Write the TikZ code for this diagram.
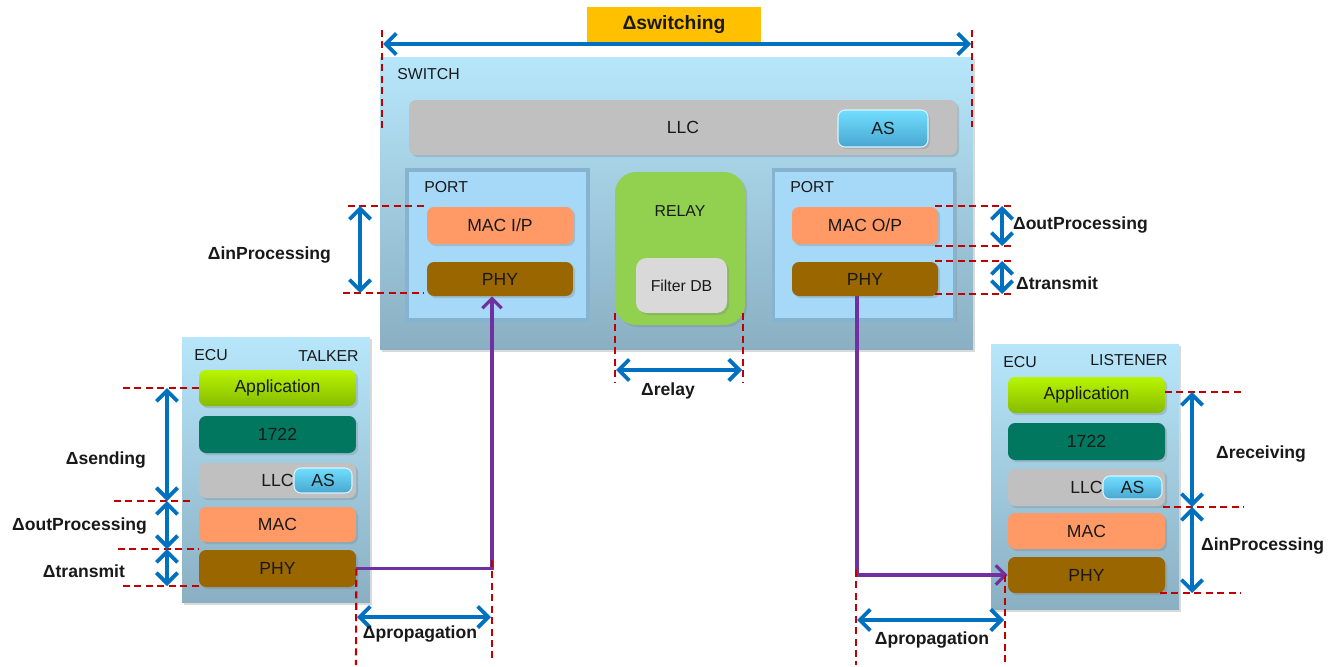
\documentclass[tikz,border=0pt]{standalone}
\usepackage{fontspec}
\setmainfont{Liberation Sans}
\usetikzlibrary{arrows.meta,calc,shadows}

\definecolor{dimblue}{HTML}{0070C0}
\definecolor{dimred}{HTML}{C00000}
\definecolor{flowpurple}{HTML}{7030A0}
\definecolor{boxtop}{HTML}{B7E6FB}
\definecolor{boxbot}{HTML}{8AAFC2}
\definecolor{portfill}{HTML}{A6D8F7}
\definecolor{portedge}{HTML}{86B4D0}
\definecolor{apptop}{HTML}{B8F500}
\definecolor{appbot}{HTML}{86BC00}
\definecolor{tealbox}{HTML}{00775E}
\definecolor{llcgray}{HTML}{C0C0C0}
\definecolor{macorange}{HTML}{FF9966}
\definecolor{phybrown}{HTML}{996600}
\definecolor{astop}{HTML}{72DEFF}
\definecolor{asbot}{HTML}{48A6D0}
\definecolor{relaygreen}{HTML}{92D050}
\definecolor{fdbgray}{HTML}{D9D9D9}
\definecolor{tagorange}{HTML}{FFC000}

\begin{document}
\begin{tikzpicture}[x=0.02cm,y=-0.02cm,
    box/.style={rounded corners=4pt,inner sep=0pt,font=\fontsize{10}{12}\selectfont,text=black!90},
    frame/.style={inner sep=0pt,top color=boxtop,bottom color=boxbot},
    portbox/.style={inner sep=0pt,fill=portfill,draw=portedge,line width=2pt},
    asbox/.style={box,top color=astop,bottom color=asbot,draw=white!70!astop,line width=0.6pt},
    softshadow/.style={drop shadow={opacity=0.3,shadow xshift=1.2pt,shadow yshift=-1.2pt}},
    dimline/.style={dimred,line width=1.2pt,dash pattern=on 4pt off 2.5pt},
    dimarrow/.style={dimblue,line width=2.2pt,{Straight Barb[length=6pt,width=12pt]}-{Straight Barb[length=6pt,width=12pt]}},
    flow/.style={flowpurple,line width=1.8pt,-{Straight Barb[length=5.5pt,width=11pt]}},
    dimlabel/.style={font=\bfseries\fontsize{10}{12}\selectfont,text=black!90,inner sep=1pt},
    title/.style={font=\fontsize{9}{11}\selectfont,text=black!90,inner sep=0pt}
  ]
  \useasboundingbox (0,0) rectangle (1341,666);

  % The switch
  \node[frame,softshadow,minimum width=11.86cm,minimum height=5.86cm] (sw) at (676.5,203.5) {};
  \node[title,anchor=west] (swT) at (397,74) {SWITCH};
  \node[box,fill=llcgray,softshadow,minimum width=10.96cm,minimum height=1.1cm] (llc) at (683,127.5) {LLC};
  \node[asbox,softshadow,minimum width=1.8cm,minimum height=0.74cm] (asS) at (883,128.5) {AS};

  % Input and output ports
  \node[portbox,softshadow,minimum width=3.62cm,minimum height=3cm] (portL) at (497.5,245) {};
  \node[title,anchor=west] (portLT) at (424,187) {PORT};
  \node[box,fill=macorange,softshadow,minimum width=2.92cm,minimum height=0.74cm] (macI) at (500,225.5) {MAC I/P};
  \node[box,fill=phybrown,softshadow,minimum width=2.92cm,minimum height=0.68cm] (phyL) at (500,279) {PHY};

  \node[portbox,softshadow,minimum width=3.62cm,minimum height=3cm] (portR) at (864,245) {};
  \node[title,anchor=west] (portRT) at (790,187) {PORT};
  \node[box,fill=macorange,softshadow,minimum width=2.92cm,minimum height=0.74cm] (macO) at (865,225.5) {MAC O/P};
  \node[box,fill=phybrown,softshadow,minimum width=2.92cm,minimum height=0.68cm] (phyR) at (865,279) {PHY};

  % The relay
  \node[fill=relaygreen,rounded corners=12pt,inner sep=0pt,softshadow,minimum width=2.6cm,minimum height=3.06cm] (relay) at (680,248.5) {};
  \node[title] (relayT) at (680,211) {RELAY};
  \node[box,fill=fdbgray,rounded corners=6pt,softshadow,font=\fontsize{9}{11}\selectfont,minimum width=1.82cm,minimum height=1.1cm] (fdb) at (681.5,285.5) {Filter DB};

  % Talker ECU
  \node[frame,softshadow,minimum width=3.76cm,minimum height=5.32cm] (talker) at (276,470) {};
  \node[title,anchor=west] (talkerE) at (194,355) {ECU};
  \node[title,anchor=east] (talkerT) at (359,356) {TALKER};
  \node[box,top color=apptop,bottom color=appbot,softshadow,minimum width=3.14cm,minimum height=0.72cm] (tApp) at (277.5,388) {Application};
  \node[box,fill=tealbox,softshadow,minimum width=3.14cm,minimum height=0.74cm] (t1722) at (277.5,434.5) {1722};
  \node[box,fill=llcgray,softshadow,minimum width=3.14cm,minimum height=0.7cm] (tLLC) at (277.5,480.5) {LLC};
  \node[asbox,minimum width=1.16cm,minimum height=0.5cm] (tAS) at (323,480.5) {\raisebox{-3pt}{AS}};
  \node[box,fill=macorange,softshadow,minimum width=3.14cm,minimum height=0.7cm] (tMAC) at (277.5,524.5) {MAC};
  \node[box,fill=phybrown,softshadow,minimum width=3.14cm,minimum height=0.74cm] (tPHY) at (277.5,568.5) {PHY};

  % Listener ECU
  \node[frame,softshadow,minimum width=3.76cm,minimum height=5.32cm] (listener) at (1085,477) {};
  \node[title,anchor=west] (listenerE) at (1003,362) {ECU};
  \node[title,anchor=east] (listenerT) at (1168,360) {LISTENER};
  \node[box,top color=apptop,bottom color=appbot,softshadow,minimum width=3.14cm,minimum height=0.72cm] (lApp) at (1086.5,395) {Application};
  \node[box,fill=tealbox,softshadow,minimum width=3.14cm,minimum height=0.74cm] (l1722) at (1086.5,441.5) {1722};
  \node[box,fill=llcgray,softshadow,minimum width=3.14cm,minimum height=0.74cm] (lLLC) at (1086.5,487.5) {LLC};
  \node[asbox,minimum width=1.18cm,minimum height=0.46cm] (lAS) at (1132.5,487.5) {\raisebox{-3pt}{AS}};
  \node[box,fill=macorange,softshadow,minimum width=3.14cm,minimum height=0.72cm] (lMAC) at (1086.5,531) {MAC};
  \node[box,fill=phybrown,softshadow,minimum width=3.14cm,minimum height=0.72cm] (lPHY) at (1086.5,575) {PHY};

  % Frame path talker -> switch -> listener
  \draw[flow] (tPHY.east) -| ($(phyL.south)+(-8,0)$);
  \draw[flow] ($(phyR.south)+(-8,0)$) |- (lPHY.west);

  % Switching delay
  \node[fill=tagorange,dimlabel,font=\bfseries\fontsize{11}{13}\selectfont,minimum width=3.48cm,minimum height=0.74cm] (swTag) at (674,25) {Δswitching};
  \draw[dimline] (382,30) -- (382,128);
  \draw[dimline] (972,30) -- (972,127);
  \coordinate (sw1) at (383,44);
  \coordinate (sw2) at (971,44);
  \draw[dimarrow] (sw1) -- (sw2);

  % Switch input port
  \draw[dimline] (348,206) -- (427,206);
  \draw[dimline] (343,293) -- (423,293);
  \coordinate (ip1) at (360,206);
  \coordinate (ip2) at (360,293);
  \draw[dimarrow] (ip1) -- (ip2);
  \node[dimlabel,anchor=east] (ipL) at (333,255) {ΔinProcessing};

  % Switch output port
  \draw[dimline] (935,206) -- (1012,206);
  \draw[dimline] (935,246) -- (1012,246);
  \draw[dimline] (935,261) -- (1012,261);
  \draw[dimline] (935,294) -- (1012,294);
  \coordinate (op1) at (1002,206);
  \coordinate (op2) at (1002,246);
  \coordinate (tr1) at (1002,261);
  \coordinate (tr2) at (1002,294);
  \draw[dimarrow] (op1) -- (op2);
  \draw[dimarrow] (tr1) -- (tr2);
  \node[dimlabel,anchor=west] (opL) at (1011,225) {ΔoutProcessing};
  \node[dimlabel,anchor=west] (trL) at (1014,283) {Δtransmit};

  % Relay
  \draw[dimline] (615,313) -- (615,383);
  \draw[dimline] (743,313) -- (743,383);
  \coordinate (rl1) at (616,370);
  \coordinate (rl2) at (742,370);
  \draw[dimarrow] (rl1) -- (rl2);
  \node[dimlabel] (rlL) at (668,391) {Δrelay};

  % Talker delays
  \draw[dimline] (123,388) -- (tApp.west);
  \draw[dimline] (114,501) -- (193,501);
  \draw[dimline] (118,549) -- (198,549);
  \draw[dimline] (123,586) -- (200,586);
  \coordinate (sd1) at (167,388);
  \coordinate (sd2) at (167,501);
  \coordinate (sd3) at (167,549);
  \coordinate (sd4) at (167,586);
  \draw[dimarrow] (sd1) -- (sd2);
  \draw[dimarrow] (sd2) -- (sd3);
  \draw[dimarrow] (sd3) -- (sd4);
  \node[dimlabel,anchor=east] (sdL) at (148,460) {Δsending};
  \node[dimlabel,anchor=east] (toL) at (149,526) {ΔoutProcessing};
  \node[dimlabel,anchor=east] (ttL) at (127,571) {Δtransmit};

  % Listener delays
  \draw[dimline] (1165,392) -- (1243,392);
  \draw[dimline] (1163,507) -- (1243,507);
  \draw[dimline] (1160,593) -- (1240,593);
  \coordinate (rc1) at (1192,392);
  \coordinate (rc2) at (1192,507);
  \coordinate (rc3) at (1192,593);
  \draw[dimarrow] (rc1) -- (rc2);
  \draw[dimarrow] (rc2) -- (rc3);
  \node[dimlabel,anchor=west] (rcL) at (1214,454) {Δreceiving};
  \node[dimlabel,anchor=west] (liL) at (1199,546) {ΔinProcessing};

  % Propagation delays
  \draw[dimline] (tPHY.east) -- (356,665);
  \draw[dimline] (492,560) -- (492,660);
  \coordinate (pg1) at (357,617);
  \coordinate (pg2) at (491,617);
  \draw[dimarrow] (pg1) -- (pg2);
  \node[dimlabel] (pgL) at (420,634) {Δpropagation};

  \draw[dimline] (856,570) -- (856,665);
  \draw[dimline] (1005,575) -- (1005,665);
  \coordinate (pr1) at (857,620);
  \coordinate (pr2) at (1004,620);
  \draw[dimarrow] (pr1) -- (pr2);
  \node[dimlabel] (prL) at (932,640) {Δpropagation};
\end{tikzpicture}
\end{document}
